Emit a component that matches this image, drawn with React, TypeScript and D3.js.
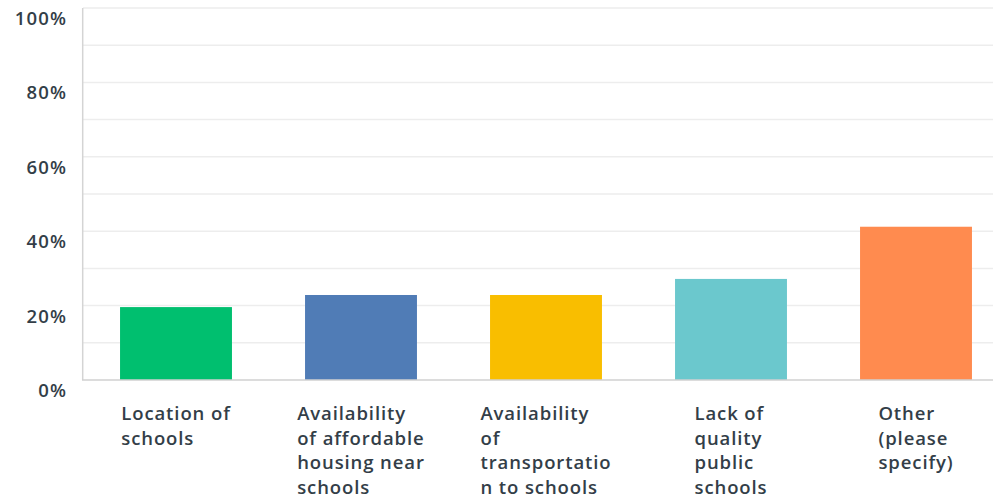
import React, { useEffect, useRef } from "react";
import * as d3 from "d3";

const categories = [
  "Location of schools",
  "Availability of affordable housing near schools",
  "Availability of transportation to schools",
  "Lack of quality public schools",
  "Other (please specify)",
];
const labelLines = [
  ["Location of", "schools"],
  ["Availability", "of affordable", "housing near", "schools"],
  ["Availability", "of", "transportatio", "n to schools"],
  ["Lack of", "quality", "public", "schools"],
  ["Other", "(please", "specify)"],
];
const values = [19.6, 22.85, 22.85, 27.17, 41.2];
const colors = ["#00bf6f", "#507cb6", "#f9be00", "#6bc8cd", "#ff8b4f"];
const yTicks = [0, 20, 40, 60, 80, 100];
const gridTicks = [10, 20, 30, 40, 50, 60, 70, 80, 90, 100];

const W = 993;
const H = 501;
const FONT = "'Open Sans', sans-serif";
const TEXT = "#333e48";

export default function App() {
  const ref = useRef<SVGSVGElement>(null);
  useEffect(() => {
    const svg = d3.select(ref.current);
    svg.selectAll("*").remove();
    const y = d3.scaleLinear().domain([0, 100]).range([380, 8]);
    const x = d3
      .scaleBand<string>()
      .domain(categories)
      .range([83.5, 1008.5])
      .paddingInner(0.395)
      .paddingOuter(0.1975);

    svg
      .append("g")
      .selectAll("line")
      .data(gridTicks)
      .join("line")
      .attr("x1", 83)
      .attr("x2", W)
      .attr("y1", (d) => y(d))
      .attr("y2", (d) => y(d))
      .attr("stroke", "#ededed")
      .attr("stroke-width", 1.5);

    svg
      .append("g")
      .selectAll("rect")
      .data(values)
      .join("rect")
      .attr("x", (_, i) => x(categories[i])!)
      .attr("width", x.bandwidth())
      .attr("y", (d) => y(d))
      .attr("height", (d) => y(0) - y(d))
      .attr("fill", (_, i) => colors[i]);

    svg
      .append("line")
      .attr("x1", 82.7)
      .attr("x2", 82.7)
      .attr("y1", y(100))
      .attr("y2", y(0))
      .attr("stroke", "#d4d4d4")
      .attr("stroke-width", 1.5);
    svg
      .append("line")
      .attr("x1", 82)
      .attr("x2", W)
      .attr("y1", y(0))
      .attr("y2", y(0))
      .attr("stroke", "#d0d0d0")
      .attr("stroke-width", 1.5);

    svg
      .append("g")
      .selectAll("text")
      .data(yTicks)
      .join("text")
      .attr("x", 67.2)
      .attr("y", (d) => y(d) + 17)
      .attr("text-anchor", "end")
      .attr("font-family", FONT)
      .attr("font-weight", 600)
      .attr("font-size", 18.5)
      .attr("letter-spacing", 1.2)
      .attr("fill", TEXT)
      .text((d) => `${d}%`);

    const lg = svg.append("g");
    categories.forEach((c, i) => {
      const t = lg
        .append("text")
        .attr("font-family", FONT)
        .attr("font-weight", 600)
        .attr("font-size", 18.5)
        .attr("letter-spacing", 0.9)
        .attr("fill", TEXT);
      const spans = labelLines[i].map((l, j) =>
        t
          .append("tspan")
          .attr("dy", j === 0 ? 0 : 24.7)
          .text(l)
      );
      let maxW = 0;
      spans.forEach((s) => {
        maxW = Math.max(maxW, (s.node() as SVGTSpanElement).getComputedTextLength());
      });
      const cx = x(c)! + x.bandwidth() / 2;
      const left = cx - maxW / 2;
      t.attr("y", 420);
      spans.forEach((s) => s.attr("x", left));
    });
  }, []);
  return (
    <svg
      ref={ref}
      width={W}
      height={H}
      style={{ position: "absolute", left: 0, top: 0, background: "#fff" }}
    />
  );
}
